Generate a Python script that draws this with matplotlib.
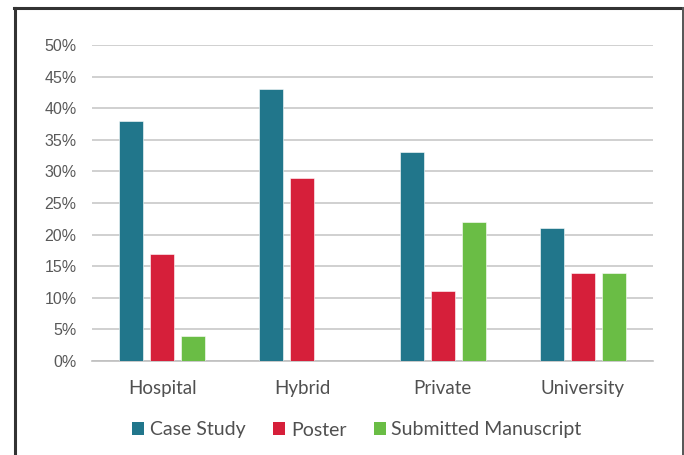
import matplotlib.pyplot as plt
import numpy as np
from matplotlib.patches import Patch
from matplotlib.lines import Line2D

categories = ['Hospital', 'Hybrid', 'Private', 'University']
case_study = [38, 43, 33, 21]
poster = [17, 29, 11, 14]
manuscript = [4, 0, 22, 14]
series_names = ['Case Study', 'Poster', 'Submitted Manuscript']
colors = ['#21768B', '#D61F3A', '#6ABD45']
yticks = [0, 5, 10, 15, 20, 25, 30, 35, 40, 45, 50]

plt.rcParams['font.family'] = ['Lato', 'DejaVu Sans']

fig = plt.figure(figsize=(6.84, 4.55), dpi=100)
ax = fig.add_axes([92 / 684, 1 - 361 / 455, (653 - 92) / 684, (361 - 45) / 455])

x = np.arange(len(categories))
width = 0.171
offset = 0.221
for i, vals in enumerate([case_study, poster, manuscript]):
    ax.bar(x + (i - 1) * offset, vals, width, color=colors[i], zorder=3,
           edgecolor='white', linewidth=0.4)

ax.set_xlim(-0.5, len(categories) - 0.5)
ax.set_ylim(0, 50)
ax.set_yticks(yticks)
ax.set_yticklabels([f'{v}%' for v in yticks], family=['Liberation Sans'],
                   fontsize=11.5, color='#595959')
ax.set_xticks(x)
ax.set_xticklabels(categories, fontsize=13.5, color='#505050')
ax.tick_params(axis='both', length=0)
ax.tick_params(axis='y', pad=11)
ax.tick_params(axis='x', pad=14)
ax.grid(axis='y', color='#C8C8C8', linewidth=1.2, zorder=0)
for s in ['top', 'right', 'left']:
    ax.spines[s].set_visible(False)
ax.spines['bottom'].set_color('#BFBFBF')
ax.spines['bottom'].set_linewidth(1.2)

handles = [Patch(facecolor=c) for c in colors]
fig.legend(handles, series_names, loc='center', bbox_to_anchor=(357 / 684, 1 - 430 / 455),
           ncol=3, frameon=False, fontsize=14, labelcolor='#505050',
           handlelength=0.62, handleheight=0.62, handletextpad=0.3, columnspacing=1.4)

# frame around the figure
fig.add_artist(Line2D([15 / 684, 15 / 684], [0, 1 - 7.5 / 455], color='#333333', lw=2.2,
                      transform=fig.transFigure))
fig.add_artist(Line2D([14 / 684, 684 / 684], [1 - 7.5 / 455, 1 - 7.5 / 455], color='#333333',
                      lw=2.2, transform=fig.transFigure))
fig.add_artist(Line2D([683 / 684, 683 / 684], [0, 1 - 7.5 / 455], color='#555555', lw=1.4,
                      transform=fig.transFigure))

fig.savefig('out.png', dpi=100)
